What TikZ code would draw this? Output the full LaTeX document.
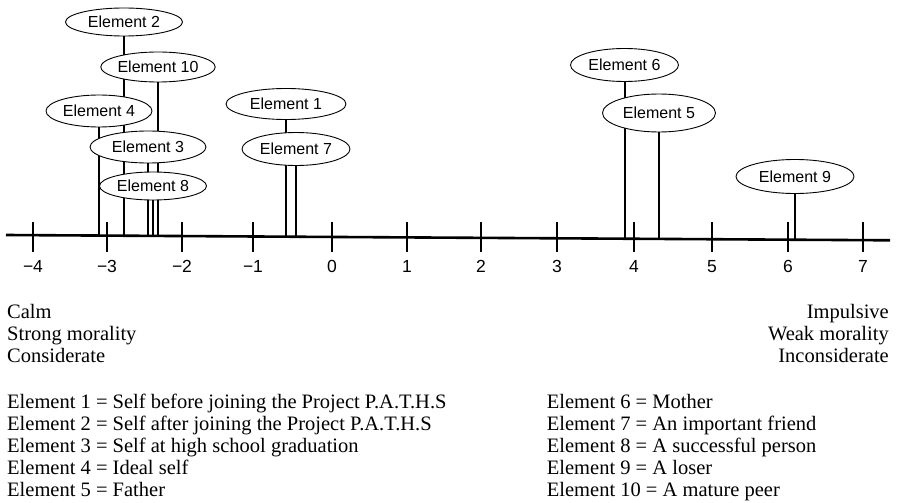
\documentclass[tikz,border=0pt]{standalone}
\usepackage{fontspec}
\setmainfont{Liberation Serif}
\newfontfamily\labelfont{Liberation Sans}
\usetikzlibrary{shapes.geometric}
\pgfdeclarelayer{back}
\pgfsetlayers{back,main}

\begin{document}
\begin{tikzpicture}[x=1pt,y=-1pt,
  elem/.style={ellipse,draw,line width=0.9pt,fill=white,inner sep=0pt,
    font=\labelfont\fontsize{16}{18}\selectfont},
  stem/.style={line width=2pt},
  axisline/.style={line width=2.6pt},
  tickmark/.style={line width=2.4pt},
  ticklabel/.style={anchor=base,inner sep=0pt,
    font=\labelfont\fontsize{17.5}{20}\selectfont},
  txt/.style={inner sep=0pt,font=\fontsize{20.5}{22}\selectfont}]
\useasboundingbox (0,0) rectangle (898,503);

% element ellipses, each centred over its position on the scale
\node[elem,minimum width=117pt,minimum height=28pt] (e2)  at (124,22)   {Element 2};
\node[elem,minimum width=112pt,minimum height=30pt] (e10) at (158,67)   {Element 10};
\node[elem,minimum width=106pt,minimum height=32pt] (e4)  at (99,111)   {Element 4};
\node[elem,minimum width=116pt,minimum height=32pt] (e3)  at (148,147)  {Element 3};
\node[elem,minimum width=107pt,minimum height=28pt] (e8)  at (153,186)  {Element 8};
\node[elem,minimum width=120pt,minimum height=31pt] (e1)  at (286,104)  {Element 1};
\node[elem,minimum width=108pt,minimum height=33pt] (e7)  at (296,149)  {Element 7};
\node[elem,minimum width=108pt,minimum height=33pt] (e6)  at (624.5,65) {Element 6};
\node[elem,minimum width=113pt,minimum height=38pt] (e5)  at (659,113)  {Element 5};
\node[elem,minimum width=118pt,minimum height=34pt] (e9)  at (795,176.5){Element 9};

% the scale line (very slightly sloping)
\coordinate (axL) at (6,235);
\coordinate (axR) at (890,240.3);
\draw[axisline] (axL) -- (axR);

% feet of the stems on the scale line
\foreach \n/\x in {1/286,2/124,3/148,4/99,5/659,6/624.5,7/296,8/153,9/795,10/158}
  \coordinate (f\n) at (\x,{235+(\x-6)*5.3/884});

% stems run behind the ellipses
\begin{pgfonlayer}{back}
  \foreach \n in {1,...,10}
    \draw[stem] (e\n) -- (f\n);
\end{pgfonlayer}

% tick marks and their labels
\foreach \lab/\x/\nm in {−4/33/m4,−3/107/m3,−2/182/m2,−1/253/m1,0/332/p0,
    1/407/p1,2/481/p2,3/557/p3,4/634/p4,5/712/p5,6/788/p6,7/863/p7}{
  \draw[tickmark] (\x,222) -- (\x,252);
  \node[ticklabel] (t\nm) at (\x,272) {\lab};
}

% pole descriptions
\node[txt,anchor=base west] (l1) at (7,318) {Calm};
\node[txt,anchor=base west] (l2) at (7,340) {Strong morality};
\node[txt,anchor=base west] (l3) at (7,362) {Considerate};
\node[txt,anchor=base east] (r1) at (889,318) {Impulsive};
\node[txt,anchor=base east] (r2) at (889,340) {Weak morality};
\node[txt,anchor=base east] (r3) at (889,362) {Inconsiderate};

% key to the elements
\node[txt,anchor=base west] (k1) at (7,408.3) {Element 1 = Self before joining the Project P.A.T.H.S};
\node[txt,anchor=base west] (k2) at (7,430.4) {Element 2 = Self after joining the Project P.A.T.H.S};
\node[txt,anchor=base west] (k3) at (7,452.5) {Element 3 = Self at high school graduation};
\node[txt,anchor=base west] (k4) at (7,474.6) {Element 4 = Ideal self};
\node[txt,anchor=base west] (k5) at (7,496.7) {Element 5 = Father};
\node[txt,anchor=base west] (k6) at (546.7,408.3) {Element 6 = Mother};
\node[txt,anchor=base west] (k7) at (546.7,430.4) {Element 7 = An important friend};
\node[txt,anchor=base west] (k8) at (546.7,452.5) {Element 8 = A successful person};
\node[txt,anchor=base west] (k9) at (546.7,474.6) {Element 9 = A loser};
\node[txt,anchor=base west] (k10) at (546.7,496.7) {Element 10 = A mature peer};
\end{tikzpicture}
\end{document}
